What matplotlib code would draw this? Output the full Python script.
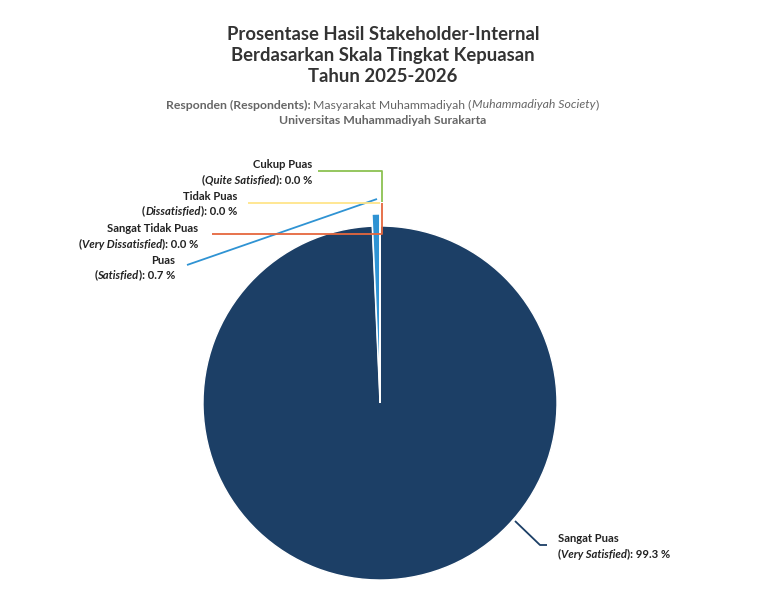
import matplotlib
matplotlib.use("Agg")
import matplotlib.pyplot as plt

# data
categories = ["Sangat Puas", "Puas", "Cukup Puas", "Tidak Puas", "Sangat Tidak Puas"]
english = ["Very Satisfied", "Satisfied", "Quite Satisfied", "Dissatisfied", "Very Dissatisfied"]
values = [99.3, 0.7, 0.0, 0.0, 0.0]
colors = ["#1c3f66", "#2f93d3", "#8cc152", "#ffe58a", "#e5673e"]

W, H = 768, 607
FONT = "Lato"
TXT = "#222222"

fig = plt.figure(figsize=(W / 100, H / 100), dpi=100)
ax = fig.add_axes([0, 0, 1, 1])


def P(px, py):
    # pixel position (top-left origin) -> axes data units
    return px, H - py


cx, cy = P(380, 403)
wedges, _ = ax.pie(values, colors=colors, startangle=90, counterclock=False,
                   radius=177, center=(cx, cy), explode=[0, 12, 0, 0, 0],
                   wedgeprops=dict(edgecolor="white", linewidth=1))
ax.set_xlim(0, W)
ax.set_ylim(0, H)
ax.set_aspect("equal")
ax.axis("off")

renderer = fig.canvas.get_renderer()


def runs_text(x, y, runs, size, color, ha="center"):
    # draw a line made of several styled pieces
    items = []
    total = 0
    for s, weight, style in runs:
        t = ax.text(0, y, s, fontsize=size, fontweight=weight, fontstyle=style,
                    color=color, family=FONT, va="center", ha="left")
        w = t.get_window_extent(renderer).width
        items.append((t, w))
        total += w
    if ha == "center":
        start = x - total / 2
    elif ha == "right":
        start = x - total
    else:
        start = x
    for t, w in items:
        t.set_x(start)
        start += w


# title
for i, line in enumerate(["Prosentase Hasil Stakeholder-Internal",
                          "Berdasarkan Skala Tingkat Kepuasan",
                          "Tahun 2025-2026"]):
    x, y = P(383, 35 + 21 * i)
    ax.text(x, y, line, fontsize=13.3, fontweight="bold", color="#333333",
            family=FONT, ha="center", va="center")

x, y = P(382, 105)
runs_text(x, y, [("Responden (Respondents): ", "bold", "normal"),
                 ("Masyarakat Muhammadiyah (", "normal", "normal"),
                 ("Muhammadiyah Society", "normal", "italic"),
                 (")", "normal", "normal")], 8.8, "#666666")
x, y = P(383, 121)
ax.text(x, y, "Universitas Muhammadiyah Surakarta", fontsize=8.8, fontweight="bold",
        color="#666666", family=FONT, ha="center", va="center")

# data labels: (text anchor x, line1 y, align, connector path in pixels)
label_layout = {
    "Cukup Puas": (312, 165, "right", [(318, 171), (382, 171), (382, 202)]),
    "Tidak Puas": (237, 196, "right", [(248, 203), (380, 203)]),
    "Sangat Tidak Puas": (198, 229, "right", [(212, 234), (382, 234), (382, 203)]),
    "Puas": (175, 260, "right", [(187, 265), (377, 199)]),
    "Sangat Puas": (558, 539, "left", [(515, 521), (540, 545), (547, 545)]),
}

for cat, eng, val, col in zip(categories, english, values, colors):
    lx, ly, ha, path = label_layout[cat]
    xs = [p[0] for p in path]
    ys = [H - p[1] for p in path]
    ax.plot(xs, ys, color=col, linewidth=1.3, solid_capstyle="butt")
    x, y = P(lx, ly)
    runs_text(x, y, [(cat, "bold", "normal")], 8.1, TXT, ha=ha)
    x, y = P(lx, ly + 15)
    runs_text(x, y, [("(", "bold", "normal"), (eng, "bold", "italic"),
                     ("): %.1f %%" % val, "bold", "normal")], 8.1, TXT, ha=ha)

fig.savefig("out.png", dpi=100, facecolor="white")
